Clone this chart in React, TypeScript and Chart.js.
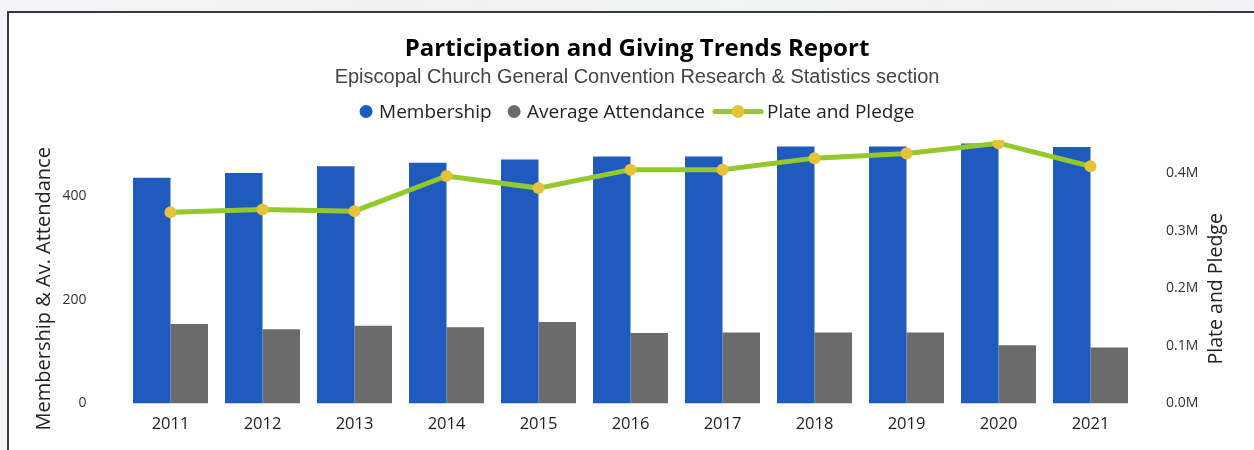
import { useEffect, useRef } from 'react';
import { Chart, registerables } from 'chart.js';

Chart.register(...registerables);

const years = ['2011', '2012', '2013', '2014', '2015', '2016', '2017', '2018', '2019', '2020', '2021'];
const membership = [435, 444, 457, 464, 470, 476, 476, 495, 495, 501, 494];
const attendance = [153, 143, 150, 147, 157, 136, 137, 137, 137, 112, 108];
const platePledge = [332000, 337000, 334000, 395000, 374000, 406000, 406000, 426000, 434000, 452000, 412000];
const leftTicks = [0, 200, 400];
const rightTicks = [0, 100000, 200000, 300000, 400000];

const BLUE = '#1f5bbe';
const GRAY = '#6b6b6b';
const GREEN = '#93c92c';
const YELLOW = '#e6c23a';
const UI_FONT = '"Open Sans", "Noto Sans", sans-serif';

const overlayPlugin = {
  id: 'overlay',
  afterDraw(chart: any) {
    const ctx: CanvasRenderingContext2D = chart.ctx;
    const ca = chart.chartArea;
    ctx.save();
    // axis titles
    ctx.fillStyle = '#222';
    ctx.textAlign = 'center';
    ctx.textBaseline = 'middle';
    const midY = (ca.top + ca.bottom) / 2 + 17;
    ctx.save();
    ctx.font = `20px ${UI_FONT}`;
    ctx.translate(ca.left - 80, midY);
    ctx.rotate(-Math.PI / 2);
    ctx.fillText('Membership & Av. Attendance', 0, 0);
    ctx.restore();
    ctx.save();
    ctx.font = `19.5px ${UI_FONT}`;
    ctx.translate(ca.right + 79.5, midY);
    ctx.rotate(-Math.PI / 2);
    ctx.fillText('Plate and Pledge', 0, 0);
    ctx.restore();

    // legend
    const ds = chart.data.datasets;
    const items = [
      { label: ds[0].label, kind: 'dot', color: BLUE },
      { label: ds[1].label, kind: 'dot', color: GRAY },
      { label: ds[2].label, kind: 'line', color: GREEN },
    ];
    ctx.font = `19px ${UI_FONT}`;
    const dotW = 13;
    const lineW = 50;
    const markGap = [6.5, 6.5, 4];
    const itemGap = [16, 8];
    let total = 0;
    const widths = items.map((it, i) => {
      const mw = it.kind === 'dot' ? dotW : lineW;
      const tw = ctx.measureText(it.label).width;
      return { mw, tw, w: mw + markGap[i] + tw };
    });
    widths.forEach((w, i) => {
      total += w.w + (i < itemGap.length ? itemGap[i] : 0);
    });
    const tb = chart.titleBlock;
    const cx = tb ? (tb.left + tb.right) / 2 : chart.width / 2;
    const ly = ca.top - 28.5;
    let x = cx - total / 2;
    ctx.textAlign = 'left';
    ctx.textBaseline = 'middle';
    items.forEach((it, i) => {
      const w = widths[i];
      if (it.kind === 'dot') {
        ctx.fillStyle = it.color;
        ctx.beginPath();
        ctx.arc(x + dotW / 2, ly, dotW / 2, 0, Math.PI * 2);
        ctx.fill();
      } else {
        ctx.strokeStyle = GREEN;
        ctx.lineWidth = 5;
        ctx.lineCap = 'round';
        ctx.beginPath();
        ctx.moveTo(x + 2, ly);
        ctx.lineTo(x + lineW - 2, ly);
        ctx.stroke();
        ctx.fillStyle = YELLOW;
        ctx.beginPath();
        ctx.arc(x + lineW / 2, ly, 6.5, 0, Math.PI * 2);
        ctx.fill();
      }
      ctx.fillStyle = '#222';
      ctx.fillText(it.label, x + w.mw + markGap[i], ly + 1);
      x += w.w + (i < itemGap.length ? itemGap[i] : 0);
    });
    ctx.restore();
  },
};

function fixedTicks(values: number[]) {
  return (scale: any) => {
    scale.ticks = values.map((v) => ({ value: v }));
  };
}

export default function App() {
  const ref = useRef<HTMLCanvasElement | null>(null);

  useEffect(() => {
    if (!ref.current) return;
    const chart = new Chart(ref.current, {
      type: 'bar',
      data: {
        labels: years,
        datasets: [
          {
            type: 'bar',
            label: 'Membership',
            data: membership,
            backgroundColor: BLUE,
            yAxisID: 'y',
            order: 1,
            categoryPercentage: 0.815,
            barPercentage: 1,
          } as any,
          {
            type: 'bar',
            label: 'Average Attendance',
            data: attendance,
            backgroundColor: GRAY,
            yAxisID: 'y',
            order: 1,
            categoryPercentage: 0.815,
            barPercentage: 1,
          } as any,
          {
            type: 'line',
            label: 'Plate and Pledge',
            data: platePledge,
            borderColor: GREEN,
            borderWidth: 5,
            pointRadius: 6,
            pointBackgroundColor: YELLOW,
            pointBorderWidth: 0,
            tension: 0,
            yAxisID: 'y2',
            order: 0,
          } as any,
        ],
      },
      options: {
        animation: false,
        responsive: true,
        maintainAspectRatio: false,
        layout: { padding: { left: 20, right: 0, top: 0, bottom: 0 } },
        plugins: {
          legend: { display: false },
          tooltip: { enabled: false },
          title: {
            display: true,
            text: 'Participation and Giving Trends Report',
            color: '#000',
            font: { family: UI_FONT, size: 24, weight: 'bold', lineHeight: 1.2 },
            padding: { top: 35, bottom: 0 },
          },
          subtitle: {
            display: true,
            text: 'Episcopal Church General Convention Research & Statistics section',
            color: '#444',
            font: { family: '"Liberation Sans", Arial, sans-serif', size: 20, lineHeight: 1.2 },
            padding: { top: 1.5, bottom: 50.7 },
          },
        },
        scales: {
          x: {
            grid: { display: false, drawTicks: false },
            border: { display: false },
            ticks: { color: '#222', font: { family: UI_FONT, size: 16.5 }, padding: 11, maxRotation: 0 },
            afterFit: (s: any) => {
              s.height = 46.5;
            },
          },
          y: {
            position: 'left',
            min: 0,
            max: 507.7,
            grid: { display: false, drawTicks: false },
            border: { display: false },
            ticks: { color: '#333', font: { family: UI_FONT, size: 14 }, padding: 38 },
            afterBuildTicks: fixedTicks(leftTicks),
            afterFit: (s: any) => {
              s.width = 104.5;
            },
          },
          y2: {
            position: 'right',
            min: 0,
            max: 457500,
            grid: { display: false, drawTicks: false },
            border: { display: false },
            ticks: {
              color: '#333',
              font: { family: UI_FONT, size: 14 },
              padding: 29.5,
              callback: (v: any) => (Number(v) / 1e6).toFixed(1) + 'M',
            },
            afterBuildTicks: fixedTicks(rightTicks),
            afterFit: (s: any) => {
              s.width = 117.5;
            },
          },
        },
      },
      plugins: [overlayPlugin],
    });
    return () => chart.destroy();
  }, []);

  return (
    <div
      style={{
        position: 'fixed',
        left: 0,
        top: 0,
        width: 1254,
        height: 450,
        overflow: 'hidden',
        background: 'linear-gradient(100deg, #f5f4fb 0%, #f1f1f1 30%, #eef6f0 55%, #f1f1f1 75%, #f2f2fa 100%)',
      }}
    >
      <div
        style={{
          position: 'absolute',
          left: 7,
          top: 11,
          width: 1270,
          height: 460,
          border: '2px solid #3a3a3a',
          background: '#fff',
          boxSizing: 'border-box',
        }}
      />
      <div style={{ position: 'absolute', left: 0, top: 0, width: 1254, height: 450 }}>
        <canvas ref={ref} />
      </div>
    </div>
  );
}
